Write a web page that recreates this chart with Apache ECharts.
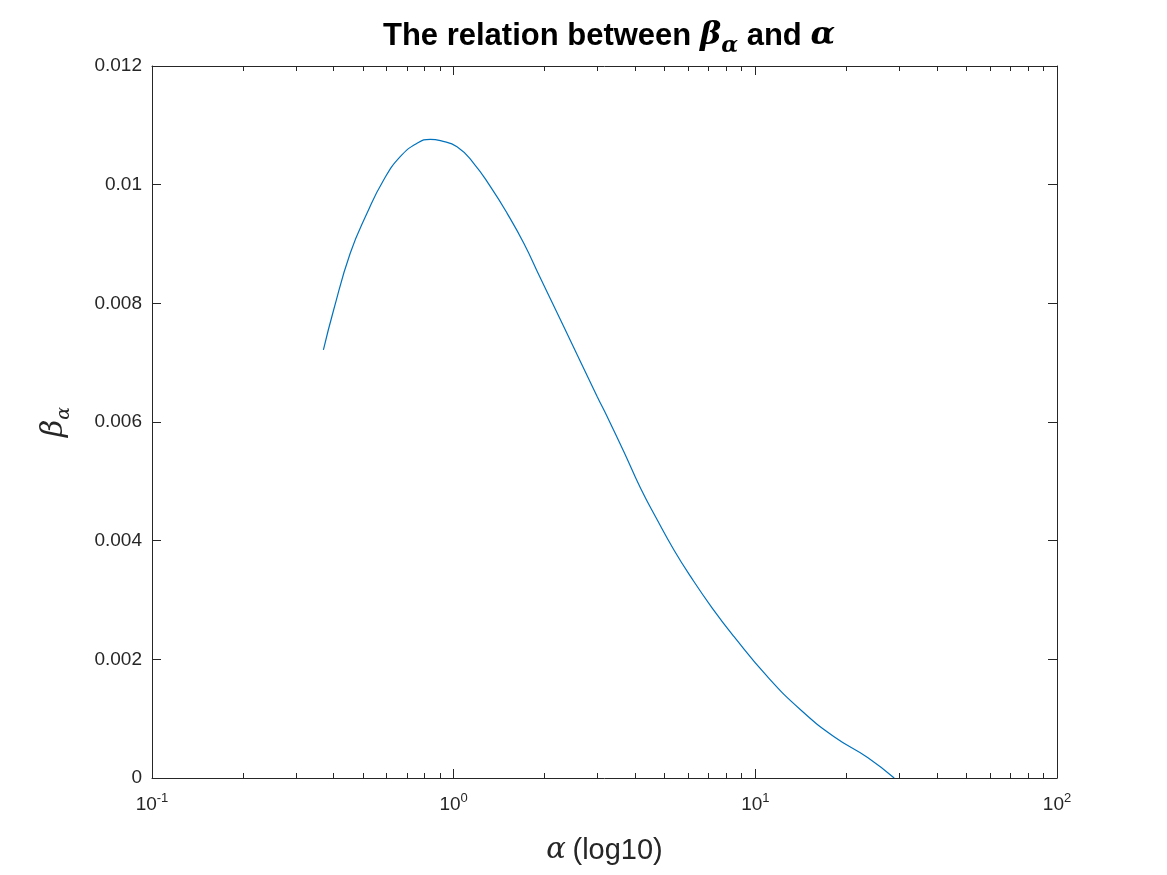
<!DOCTYPE html>
<html>
<head>
<meta charset="utf-8">
<script src="https://cdn.jsdelivr.net/npm/echarts@6/dist/echarts.min.js"></script>
<style>
html, body { margin: 0; padding: 0; background: #fff; }
#chart { width: 1167px; height: 875px; }
</style>
</head>
<body>
<div id="chart"></div>
<script>
// values
const alphaValues = [0.370, 0.400, 0.454, 0.516, 0.586, 0.665, 0.756, 0.837, 0.904, 1.026,
    1.165, 1.324, 1.504, 1.708, 1.940, 2.318, 2.992, 3.229, 3.666, 4.165,
    4.732, 5.373, 6.105, 7.205, 8.50, 10.97, 14.15, 18.24, 23.56, 28.86]
const betaValues = [0.007214, 0.007888, 0.008843, 0.009517, 0.010079, 0.010471, 0.010697, 0.010765, 0.010741, 0.010640,
    0.010360, 0.009966, 0.009517, 0.009012, 0.008422, 0.007606, 0.006426, 0.006089, 0.005499, 0.004883,
    0.004348, 0.003843, 0.003393, 0.002860, 0.002382, 0.001707, 0.001146, 0.000696, 0.000346, 0]
const xRange = [0.1, 100]
const yRange = [0, 0.012]
const yStep = 0.002

const axisColor = '#262626'
const font = 'Liberation Sans, Arial, sans-serif'
const greek = 'DejaVu Serif, serif'

const chart = echarts.init(document.getElementById('chart'))

const logLabel = v => '{b|10}{s|' + Math.round(Math.log10(v)) + '}'

const baseX = {
    type: 'log',
    logBase: 10,
    min: xRange[0],
    max: xRange[1],
    axisLine: { show: true, onZero: false, lineStyle: { color: axisColor, width: 1 } },
    axisTick: { show: true, inside: true, length: 9, lineStyle: { color: axisColor } },
    minorTick: { show: true, splitNumber: 9, length: 5, lineStyle: { color: axisColor } },
    splitLine: { show: false },
    minorSplitLine: { show: false }
}

const baseY = {
    type: 'value',
    min: yRange[0],
    max: yRange[1],
    interval: yStep,
    axisLine: { show: true, onZero: false, lineStyle: { color: axisColor, width: 1 } },
    axisTick: { show: true, inside: true, length: 9, lineStyle: { color: axisColor } },
    splitLine: { show: false }
}

const option = {
    backgroundColor: '#fff',
    animation: false,
    title: {
        text: '{t|The relation between }{g|β}{gs|α}{t| and }{g|α}',
        left: 604,
        textAlign: 'center',
        top: 10,
        textStyle: {
            rich: {
                t: { fontFamily: font, fontWeight: 'bold', fontSize: 31, color: '#000' },
                g: { fontFamily: greek, fontStyle: 'italic', fontWeight: 'bold', fontSize: 32, color: '#000' },
                gs: { fontFamily: greek, fontStyle: 'italic', fontWeight: 'bold', fontSize: 22, color: '#000', padding: [20, 0, 0, 0] }
            }
        }
    },
    grid: { left: 152, right: 110, top: 66, bottom: 97, containLabel: false },
    xAxis: [
        Object.assign({}, baseX, {
            position: 'bottom',
            name: '{g|α}  {t|(log10)}',
            nameLocation: 'middle',
            nameGap: 58,
            nameTextStyle: {
                rich: {
                    g: { fontFamily: greek, fontStyle: 'italic', fontSize: 29, color: '#262626' },
                    t: { fontFamily: font, fontSize: 29, color: '#262626' }
                }
            },
            axisLabel: {
                margin: 14,
                formatter: logLabel,
                rich: {
                    b: { fontFamily: font, fontSize: 19, color: '#262626' },
                    s: { fontFamily: font, fontSize: 13, color: '#262626', padding: [0, 0, 13, 0] }
                }
            }
        }),
        Object.assign({}, baseX, {
            position: 'top',
            axisLabel: { show: false }
        })
    ],
    yAxis: [
        Object.assign({}, baseY, {
            position: 'left',
            name: '{g|β}{s|α}',
            nameLocation: 'middle',
            nameGap: 78,
            nameRotate: 90,
            nameTextStyle: {
                rich: {
                    g: { fontFamily: greek, fontStyle: 'italic', fontSize: 30, color: '#262626' },
                    s: { fontFamily: greek, fontStyle: 'italic', fontSize: 19, color: '#262626', padding: [20, 0, 0, 0] }
                }
            },
            axisLabel: {
                margin: 10,
                fontFamily: font,
                fontSize: 19,
                color: '#262626',
                formatter: v => String(+v.toFixed(3))
            }
        }),
        Object.assign({}, baseY, {
            position: 'right',
            axisLabel: { show: false }
        })
    ],
    series: [
        {
            type: 'line',
            xAxisIndex: 0,
            yAxisIndex: 0,
            data: alphaValues.map((a, i) => [a, betaValues[i]]),
            showSymbol: false,
            smooth: 0.5,
            lineStyle: { color: '#0072BD', width: 1.2 }
        }
    ]
}

chart.setOption(option)
</script>
</body>
</html>
